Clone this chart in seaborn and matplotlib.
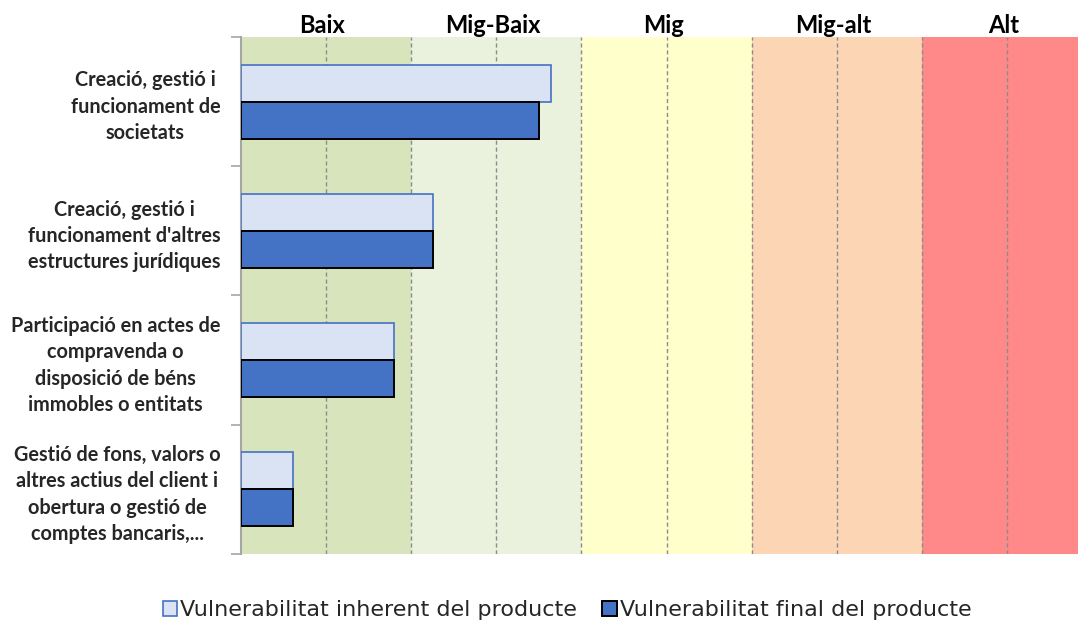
import matplotlib
matplotlib.use("Agg")
import matplotlib.pyplot as plt
import seaborn as sns
import pandas as pd

# Categories (products / services) and their vulnerability scores
categories = [
    "Creació, gestió i\nfuncionament de\nsocietats",
    "Creació, gestió i\nfuncionament d'altres\nestructures jurídiques",
    "Participació en actes de\ncompravenda o\ndisposició de béns\nimmobles o entitats",
    "Gestió de fons, valors o\naltres actius del client i\nobertura o gestió de\ncomptes bancaris,...",
]
series_names = ["Vulnerabilitat inherent del producte", "Vulnerabilitat final del producte"]
inherent_values = [1.82, 1.13, 0.90, 0.31]
final_values = [1.75, 1.13, 0.90, 0.31]

# Risk levels shown as coloured bands along the value axis
band_names = ["Baix", "Mig-Baix", "Mig", "Mig-alt", "Alt"]
band_edges = [0, 1, 2, 3, 4, 5]
band_colors = ["#D8E4BC", "#EAF1DD", "#FFFFCC", "#FCD5B4", "#FF8888"]
grid_values = [0.5, 1.0, 1.5, 2.0, 2.5, 3.0, 3.5, 4.0, 4.5]

df = pd.DataFrame({
    "categoria": categories * 2,
    "serie": [series_names[0]] * len(categories) + [series_names[1]] * len(categories),
    "valor": inherent_values + final_values,
})

sns.set_theme(style="white")
plt.rcParams["font.family"] = ["Lato", "DejaVu Sans"]

W, H = 1078, 624
fig = plt.figure(figsize=(W / 100, H / 100), dpi=100)
left_px, right_px, top_px, bottom_px = 240.5, 1078, 37, 554
ax = fig.add_axes([left_px / W, 1 - bottom_px / H, (right_px - left_px) / W, (bottom_px - top_px) / H])

face_colors = ["#DAE3F3", "#4472C4"]
edge_colors = ["#4472C4", "#000000"]

sns.barplot(data=df, y="categoria", x="valor", hue="serie", hue_order=series_names,
            order=categories, orient="h", width=0.574, palette=face_colors,
            legend=False, ax=ax, zorder=3, saturation=1)

for cont, ec, lw in zip(ax.containers, edge_colors, [1.2, 1.4]):
    for p in cont.patches:
        p.set_edgecolor(ec)
        p.set_linewidth(lw)

# Background bands and labels
for name, lo, hi, col in zip(band_names, band_edges[:-1], band_edges[1:], band_colors):
    ax.axvspan(lo, hi, color=col, zorder=0, lw=0)
    ax.text((lo + hi) / 2 - 0.02, 1 + 4 / (bottom_px - top_px), name,
            transform=ax.get_xaxis_transform(),
            ha="center", va="baseline", fontsize=17, fontweight="bold", color="black")

for g in grid_values:
    ax.axvline(g, color="#8C8C8C", lw=1.0, ls=(0, (3, 2)), zorder=1)

ax.set_xlim(0, (right_px - left_px) / 170.4)
ax.set_ylim(3.5, -0.5)
ax.set_xlabel("")
ax.set_ylabel("")
ax.set_xticks([])

# Category labels at centres, tick marks at category boundaries
ax.set_yticks(range(len(categories)))
ax.set_yticklabels(categories, fontsize=14.3, fontweight="bold", multialignment="center",
                   linespacing=1.4)
ax.tick_params(axis="y", which="major", length=0, pad=14.5)
ax.set_yticks([-0.5, 0.5, 1.5, 2.5, 3.5], minor=True)
ax.tick_params(axis="y", which="minor", length=7, width=1.2, color="#A6A6A6", direction="out", left=True)

for s in ["top", "right", "bottom"]:
    ax.spines[s].set_visible(False)
ax.spines["left"].set_color("#A6A6A6")
ax.spines["left"].set_linewidth(1.5)

leg = fig.legend(handles=list(ax.containers), labels=series_names, loc="center",
                 bbox_to_anchor=(567 / W, 1 - 610 / H), ncol=2, frameon=False,
                 handlelength=0.65, handleheight=0.65, handletextpad=0.12, columnspacing=1.15,
                 prop={"family": "DejaVu Sans", "size": 16})
for t in leg.get_texts():
    t.set_color("#262626")

fig.savefig("out.png", dpi=100)
